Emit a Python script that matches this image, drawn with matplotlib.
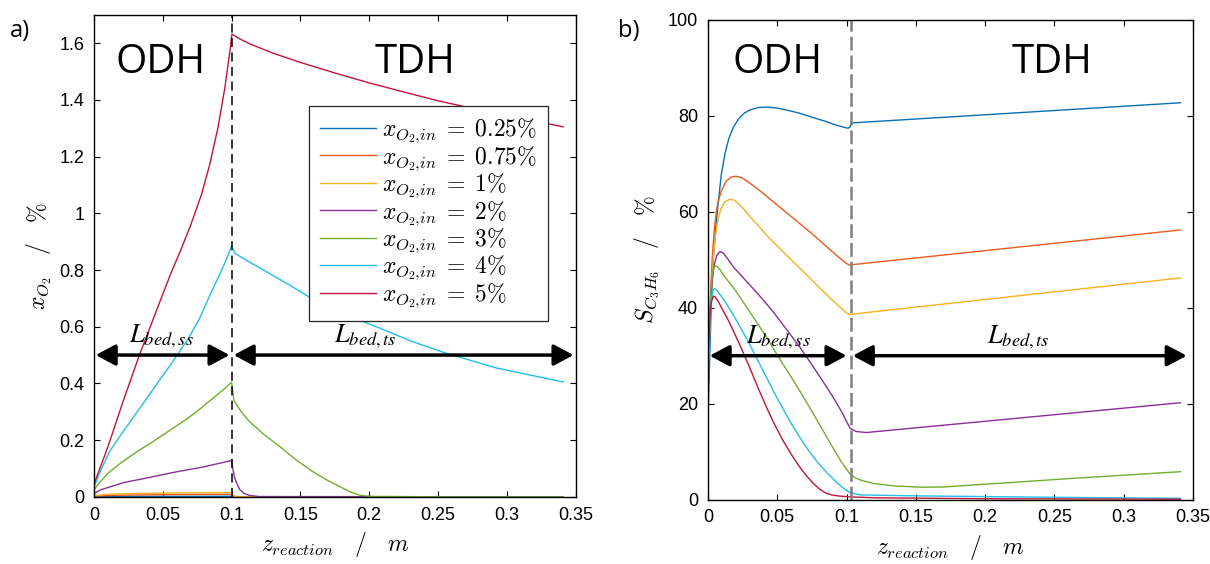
import numpy as np
import matplotlib
matplotlib.use("Agg")
import matplotlib.pyplot as plt
from matplotlib.ticker import FuncFormatter

plt.rcParams['font.family'] = ['Liberation Sans', 'DejaVu Sans']
plt.rcParams['mathtext.fontset'] = 'cm'

# inlet O2 fractions and line colours
labels = ["0.25", "0.75", "1", "2", "3", "4", "5"]
colours = ['#0A70B8', '#EC5A1E', '#F4B21E', '#8A2F98', '#6FAF2E', '#22BEEE', '#C2143A']

z_split_a = 0.1
z_split_b = 0.103

# ---- a) O2 mole fraction along the reactor (%) ----
xo2_z = [
    [0, 0.1, 0.1005, 0.341],
    [0, 0.02, 0.06, 0.1, 0.1005, 0.104, 0.341],
    [0, 0.01, 0.03, 0.06, 0.1, 0.1005, 0.105, 0.341],
    [0, 0.005, 0.0213, 0.04, 0.0576, 0.08, 0.1, 0.1005, 0.102, 0.104, 0.106, 0.109, 0.113, 0.12, 0.341],
    [0, 0.004, 0.01, 0.018, 0.026, 0.034, 0.042, 0.05, 0.058, 0.066, 0.074, 0.082, 0.088, 0.094,
     0.1, 0.1017, 0.107, 0.113, 0.124, 0.135, 0.147, 0.159, 0.169, 0.1786, 0.186, 0.193, 0.2,
     0.25, 0.341],
    [0, 0.005, 0.0116, 0.02, 0.0285, 0.037, 0.0455, 0.053, 0.0605, 0.069, 0.077, 0.085, 0.0915,
     0.096, 0.1, 0.1024, 0.107, 0.113, 0.125, 0.14, 0.157, 0.18, 0.2077, 0.23, 0.2537, 0.292, 0.341],
    [0, 0.01, 0.021, 0.033, 0.048, 0.056, 0.063, 0.07, 0.078, 0.084, 0.09, 0.095, 0.099,
     0.1, 0.1003, 0.106, 0.113, 0.13, 0.15, 0.175, 0.2, 0.225, 0.25, 0.275, 0.3, 0.341],
]
xo2_val = [
    [0.001, 0.002, 0.0, 0.0],
    [0.003, 0.006, 0.008, 0.009, 0.003, 0.0, 0.0],
    [0.004, 0.009, 0.012, 0.014, 0.015, 0.005, 0.0, 0.0],
    [0.012, 0.025, 0.05, 0.068, 0.086, 0.106, 0.128, 0.11, 0.07, 0.045, 0.025, 0.012, 0.005, 0.001, 0.0],
    [0.025, 0.05, 0.082, 0.114, 0.142, 0.168, 0.192, 0.218, 0.244, 0.27, 0.298, 0.33, 0.354, 0.378,
     0.404, 0.34, 0.30, 0.265, 0.218, 0.177, 0.13, 0.089, 0.06, 0.036, 0.018, 0.006, 0.0015,
     0.0, 0.0],
    [0.035, 0.095, 0.162, 0.222, 0.28, 0.338, 0.397, 0.448, 0.5, 0.562, 0.632, 0.72, 0.786,
     0.835, 0.884, 0.859, 0.845, 0.828, 0.795, 0.753, 0.703, 0.648, 0.595, 0.55, 0.51, 0.455, 0.405],
    [0.045, 0.175, 0.335, 0.5, 0.69, 0.79, 0.87, 0.955, 1.065, 1.17, 1.3, 1.44, 1.58,
     1.625, 1.632, 1.615, 1.598, 1.565, 1.532, 1.495, 1.46, 1.428, 1.397, 1.37, 1.345, 1.305],
]

# ---- b) propylene selectivity along the reactor (%) ----
sel_z = [
    [0, 0.001, 0.0025, 0.0038, 0.0055, 0.0074, 0.0095, 0.0123, 0.015, 0.0183, 0.022, 0.026,
     0.0303, 0.036, 0.0424, 0.05, 0.058, 0.0664, 0.075, 0.084, 0.092, 0.098, 0.101, 0.1025,
     0.1035, 0.2, 0.341],
    [0, 0.001, 0.002, 0.0032, 0.0045, 0.0058, 0.007, 0.0095, 0.013, 0.0165, 0.0202, 0.025, 0.03,
     0.036, 0.0424, 0.05, 0.058, 0.0664, 0.076, 0.0857, 0.094, 0.1, 0.102, 0.341],
    [0, 0.001, 0.002, 0.003, 0.004, 0.0052, 0.0065, 0.008, 0.0095, 0.012, 0.0159, 0.019, 0.022,
     0.026, 0.03, 0.036, 0.042, 0.053, 0.0604, 0.07, 0.08, 0.09, 0.1, 0.102, 0.341],
    [0, 0.001, 0.002, 0.003, 0.0045, 0.0065, 0.0087, 0.011, 0.014, 0.0183, 0.024, 0.03, 0.036,
     0.042, 0.048, 0.054, 0.06, 0.066, 0.072, 0.078, 0.084, 0.09, 0.0965, 0.1025, 0.107, 0.1145,
     0.12, 0.341],
    [0, 0.0008, 0.0015, 0.0022, 0.003, 0.004, 0.005, 0.0065, 0.009, 0.0125, 0.0183, 0.024, 0.03,
     0.036, 0.042, 0.048, 0.054, 0.06, 0.066, 0.072, 0.078, 0.084, 0.09, 0.096, 0.1025, 0.106,
     0.11, 0.119, 0.135, 0.155, 0.17, 0.191, 0.22, 0.2636, 0.3, 0.341],
    [0, 0.0008, 0.0015, 0.0022, 0.003, 0.004, 0.005, 0.0065, 0.009, 0.0125, 0.0183, 0.024, 0.03,
     0.036, 0.042, 0.048, 0.054, 0.06, 0.066, 0.072, 0.078, 0.084, 0.09, 0.096, 0.1025, 0.11,
     0.15, 0.25, 0.341],
    [0, 0.0006, 0.0012, 0.0018, 0.0025, 0.0038, 0.005, 0.0075, 0.0105, 0.0143, 0.0183, 0.024,
     0.03, 0.036, 0.042, 0.048, 0.054, 0.06, 0.066, 0.071, 0.076, 0.081, 0.0856, 0.09, 0.095,
     0.1025, 0.12, 0.2, 0.341],
]
sel_val = [
    [17, 27, 42, 50, 56.5, 61.8, 67.5, 72.2, 75.2, 77.6, 79.3, 80.5, 81.2, 81.7, 81.8, 81.6,
     81.1, 80.5, 79.7, 78.9, 78.1, 77.6, 77.4, 77.6, 78.5, 80.2, 82.7],
    [22, 33, 44, 51, 56, 59.5, 61.8, 64.2, 66.3, 67.2, 67.4, 67.0, 66.0, 64.7, 63.2, 61.4, 59.5,
     57.5, 55.2, 52.7, 50.6, 49.2, 48.9, 56.2],
    [26, 34, 41, 46.5, 51, 54.5, 57.2, 59.3, 60.7, 62.0, 62.6, 62.4, 61.7, 60.5, 59.1, 57.2,
     55.2, 52.0, 49.9, 47.2, 44.3, 41.5, 38.9, 38.6, 46.2],
    [30, 37, 42, 45.5, 49, 51.0, 51.7, 51.4, 50.3, 48.5, 46.7, 44.8, 42.9, 40.9, 38.8, 36.5,
     34.2, 31.9, 29.4, 26.8, 24.2, 21.5, 18.3, 14.9, 14.2, 14.0, 14.15, 20.2],
    [30, 36, 40.5, 44, 46.5, 48.1, 48.7, 48.6, 47.8, 46.3, 44.2, 41.8, 39.2, 36.6, 34.0, 31.1,
     28.3, 25.6, 22.8, 19.9, 16.9, 13.9, 10.9, 8.0, 5.35, 4.6, 4.1, 3.4, 2.85, 2.6, 2.65, 3.06,
     3.6, 4.46, 5.1, 5.84],
    [30, 34.5, 38, 40.8, 42.6, 43.8, 44.0, 43.6, 42.6, 41.2, 38.5, 35.6, 32.4, 29.0, 25.6, 22.2,
     19.0, 15.9, 13.1, 10.5, 8.2, 6.2, 4.4, 2.8, 1.46, 1.0, 0.8, 0.5, 0.3],
    [30, 33.5, 37, 39.5, 41.2, 42.4, 42.3, 41.3, 39.6, 37.6, 35.2, 31.6, 27.6, 23.4, 19.4, 15.7,
     12.4, 9.5, 6.9, 5.0, 3.4, 2.1, 1.3, 0.95, 0.75, 0.6, 0.4, 0.2, 0.1],
]


def matlab_fmt(v, pos):
    return "%g" % round(v, 4)


def style_axes(ax):
    ax.tick_params(direction='in', top=True, right=True, length=4, width=0.8,
                   labelsize=13, pad=7)
    for s in ax.spines.values():
        s.set_linewidth(1.0)
    ax.xaxis.set_major_formatter(FuncFormatter(matlab_fmt))
    ax.yaxis.set_major_formatter(FuncFormatter(matlab_fmt))
    ax.set_xlim(0, 0.35)
    ax.set_xticks(np.arange(0, 0.351, 0.05))
    ax.set_xlabel(r"$z_{reaction}\quad/\quad m$", fontsize=17, labelpad=5)


def double_arrow(ax, x0, x1, y):
    ax.annotate('', xy=(x1, y), xytext=(x0, y),
                arrowprops=dict(arrowstyle='<|-|>,head_length=0.6,head_width=0.32',
                                lw=2.5, color='k', shrinkA=0, shrinkB=0,
                                mutation_scale=20))


fig = plt.figure(figsize=(12.1, 5.64), dpi=100)
ax1 = fig.add_axes([0.0777, 0.1191, 0.398, 0.8546])
ax2 = fig.add_axes([0.5851, 0.114, 0.4008, 0.851])

# a) O2 profiles
for zz, vv, c, lab in zip(xo2_z, xo2_val, colours, labels):
    ax1.plot(zz, vv, color=c, lw=1.0, label=r"$x_{O_2{,}in}\;=\;%s\%%$" % lab)
style_axes(ax1)
ax1.set_ylim(0, 1.7)
ax1.set_yticks(np.arange(0, 1.61, 0.2))
ax1.set_ylabel(r"$x_{O_2}\quad/\quad\%$", fontsize=17, labelpad=4)
ax1.axvline(z_split_a, color='k', lw=1.1, ls=(0, (6, 3.5)))
ax1.text(0.0487, 1.53, "ODH", fontsize=29, family='Open Sans', ha='center', va='center')
ax1.text(0.233, 1.53, "TDH", fontsize=29, family='Open Sans', ha='center', va='center')
double_arrow(ax1, 0.0012, 0.0985, 0.5)
double_arrow(ax1, 0.1015, 0.3485, 0.5)
ax1.text(0.049, 0.565, r"$L_{bed,ss}$", fontsize=19, ha='center', va='center', math_fontfamily='stix')
ax1.text(0.197, 0.565, r"$L_{bed,ts}$", fontsize=19, ha='center', va='center', math_fontfamily='stix')
leg = ax1.legend(loc='upper left', bbox_to_anchor=(0.4465, 0.8114), borderaxespad=0,
                 fontsize=17, handlelength=2.4, handletextpad=0.25, labelspacing=-0.05,
                 borderpad=0.45, fancybox=False, framealpha=1, edgecolor='#262626')
leg.get_frame().set_linewidth(0.9)

# b) selectivity profiles
for zz, vv, c in zip(sel_z, sel_val, colours):
    ax2.plot(zz, vv, color=c, lw=1.0)
style_axes(ax2)
ax2.set_ylim(0, 100)
ax2.set_yticks(np.arange(0, 101, 20))
ax2.set_ylabel(r"$S_{C_3H_6}\quad/\quad\%$", fontsize=17, labelpad=4)
ax2.axvline(z_split_b, color='#7f7f7f', lw=1.8, ls=(0, (5.5, 2)))
ax2.text(0.0505, 91, "ODH", fontsize=29, family='Open Sans', ha='center', va='center')
ax2.text(0.248, 91, "TDH", fontsize=29, family='Open Sans', ha='center', va='center')
double_arrow(ax2, 0.0012, 0.1, 30)
double_arrow(ax2, 0.1045, 0.3455, 30)
ax2.text(0.051, 33.9, r"$L_{bed,ss}$", fontsize=19, ha='center', va='center', math_fontfamily='stix')
ax2.text(0.224, 33.9, r"$L_{bed,ts}$", fontsize=19, ha='center', va='center', math_fontfamily='stix')

fig.text(0.008, 0.945, "a)", fontsize=17, family='Open Sans', va='center')
fig.text(0.511, 0.945, "b)", fontsize=17, family='Open Sans', va='center')

fig.savefig("out.png", dpi=100)
